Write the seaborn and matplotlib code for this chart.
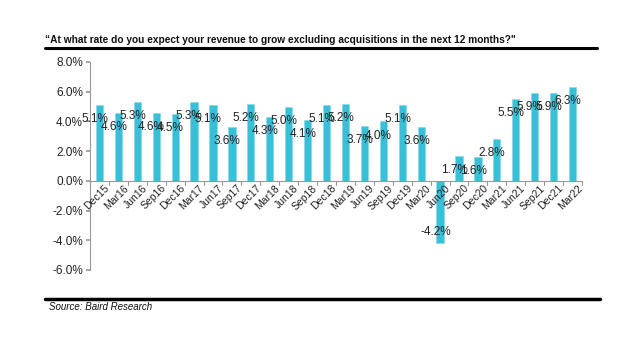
import matplotlib
matplotlib.use("Agg")
import matplotlib.pyplot as plt
import seaborn as sns
import pandas as pd
import numpy as np
from matplotlib.lines import Line2D

quarters = ["Dec15", "Mar16", "Jun16", "Sep16", "Dec16", "Mar17", "Jun17", "Sep17",
            "Dec17", "Mar18", "Jun18", "Sep18", "Dec18", "Mar19", "Jun19", "Sep19",
            "Dec19", "Mar20", "Jun20", "Sep20", "Dec20", "Mar21", "Jun21", "Sep21",
            "Dec21", "Mar22"]
growth = [5.1, 4.6, 5.3, 4.6, 4.5, 5.3, 5.1, 3.6, 5.2, 4.3, 5.0, 4.1, 5.1, 5.2,
          3.7, 4.0, 5.1, 3.6, -4.2, 1.7, 1.6, 2.8, 5.5, 5.9, 5.9, 6.3]
y_ticks = [-6, -4, -2, 0, 2, 4, 6, 8]

title = "\u201cAt what rate do you expect your revenue to grow excluding acquisitions in the next 12 months?\""
source = "Source: Baird Research"

sns.set_theme(style="white")
plt.rcParams["font.family"] = ["Liberation Sans", "DejaVu Sans"]

df = pd.DataFrame({"quarter": quarters, "growth": growth})

fig = plt.figure(figsize=(6.4, 3.6), dpi=100)
ax = fig.add_axes([90/640, 1-270/360, (582-90)/640, (270-62)/360])

sns.barplot(data=df, x="quarter", y="growth", color="#37C0D8", saturation=1,
            width=0.38, ax=ax, edgecolor="#8AD8E6", linewidth=0.5)

ax.set_xlim(-0.5, len(quarters) - 0.5)
ax.set_ylim(-6, 8)
ax.set_yticks(y_ticks)
ax.set_yticklabels([f"{v:.1f}%" for v in y_ticks], fontsize=8.5, color="#222222")
ax.set_xlabel("")
ax.set_ylabel("")

for s in ["top", "right", "bottom"]:
    ax.spines[s].set_visible(False)
ax.spines["left"].set_color("#999999")
ax.spines["left"].set_linewidth(0.8)
ax.tick_params(axis="y", which="both", left=True, length=3, color="#999999", pad=2)

# zero axis line with ticks at category boundaries
ax.axhline(0, color="#999999", lw=0.8, zorder=3)
ax.set_xticks([])
for b in np.arange(-0.5, len(quarters), 1.0):
    ax.plot([b, b], [0, -0.3], color="#999999", lw=0.8, clip_on=False, zorder=3)
for i, q in enumerate(quarters):
    ax.text(i + 0.25, -0.15, q, rotation=45, ha="right", va="top",
            fontsize=7.5, color="#222222", rotation_mode="anchor")

# value labels
for i, v in enumerate(growth):
    y = v - 0.95 if v >= 0 else v + 0.75
    ax.text(i - 0.25, y, f"{v:.1f}%", ha="center", va="center",
            fontsize=8.5, color="#222222", zorder=4)

# title, rules and source
fig.text(45/640, 1-43/360, title, fontsize=7.3, fontweight="bold",
         ha="left", va="baseline", color="#111111")
fig.add_artist(Line2D([45/640, 597/640], [1-48/360, 1-48/360], color="black", lw=2.2,
                      transform=fig.transFigure))
fig.add_artist(Line2D([45/640, 600/640], [1-299/360, 1-299/360], color="black", lw=2.5,
                      transform=fig.transFigure))
fig.text(49/640, 1-307/360, source, fontsize=7, style="italic",
         ha="left", va="center", color="#111111")

fig.savefig("out.png", dpi=100)
